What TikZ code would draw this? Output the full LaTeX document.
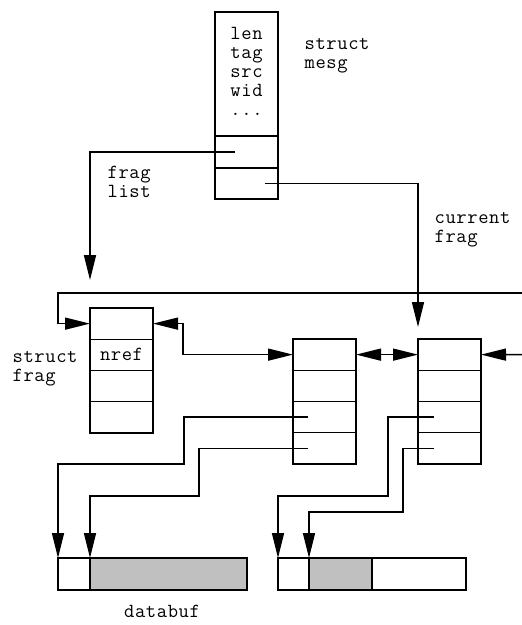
\documentclass[tikz,border=0pt]{standalone}
\usepackage{fontspec}
\setmonofont[LetterSpace=3]{Latin Modern Mono}
\usetikzlibrary{arrows.meta}
\definecolor{bufgray}{RGB}{192,192,192}
\begin{document}
\begin{tikzpicture}[x=1pt,y=-1pt, line width=1.35pt,
  cell/.style={draw, minimum width=63pt, minimum height=31.25pt, inner sep=0pt, outer sep=0pt, anchor=north west},
  buf/.style={draw, minimum height=32pt, inner sep=0pt, outer sep=0pt, anchor=north west},
  txt/.style={font=\ttfamily\fontsize{20}{19}\selectfont, inner sep=0pt},
  lbl/.style={txt, align=left, anchor=west},
  ptr/.style={-{Triangle[length=25pt,width=12pt]}},
  dptr/.style={{Triangle[length=25pt,width=12pt]}-{Triangle[length=25pt,width=12pt]}},
]
\fill[white] (0,0) rectangle (522,625);
\useasboundingbox (0,0) rectangle (522,625);

% struct mesg
\node[cell, minimum height=124pt] (m0) at (215,12) {};
\node[cell, minimum height=32pt] (m1) at (215,136) {};
\node[cell, minimum height=31pt] (m2) at (215,168) {};
\node[txt, align=center] (mtext) at (246.5,71) {len\\tag\\src\\wid\\...};
\node[lbl] (lmesg) at (304,56) {struct\\mesg};

% struct frag boxes
\node[cell] (f1r1) at (90,308) {};
\node[cell, txt, draw, inner sep=0pt] (f1r2) at (90,339.25) {nref};
\node[cell] (f1r3) at (90,370.5) {};
\node[cell] (f1r4) at (90,401.75) {};
\node[lbl] (lfrag) at (12,369) {struct\\frag};

\node[cell] (f2r1) at (293,339) {};
\node[cell] (f2r2) at (293,370.25) {};
\node[cell] (f2r3) at (293,401.5) {};
\node[cell] (f2r4) at (293,432.75) {};

\node[cell] (f3r1) at (418,339) {};
\node[cell] (f3r2) at (418,370.25) {};
\node[cell] (f3r3) at (418,401.5) {};
\node[cell] (f3r4) at (418,432.75) {};

% data buffers
\node[buf, minimum width=32pt] (db1a) at (58,558) {};
\node[buf, minimum width=157pt, fill=bufgray] (db1b) at (90,558) {};
\node[buf, minimum width=31pt] (db2a) at (278,558) {};
\node[buf, minimum width=63pt, fill=bufgray] (db2b) at (309,558) {};
\node[buf, minimum width=94pt] (db2c) at (372,558) {};
\node[txt] (ldb) at (162,611) {databuf};

% labels
\node[lbl] (lfl) at (107,182) {frag\\list};
\node[lbl] (lcf) at (434,230) {current\\frag};

% coordinates
\coordinate (fls) at (235,152);
\coordinate (flt) at (90,280);
\coordinate (cfs) at (265,183.5);
\coordinate (ringR) at (522,293);
\coordinate (rightR) at (522,354.6);

% connectors
\draw[ptr] (fls) -| (flt);
\draw[ptr] (cfs) -| ([yshift=12pt]f3r1.north west);
\draw[ptr] (ringR) -- (58,293) |- (f1r1.west);
\draw[dptr] (f1r1.east) -- ++(30,0) |- (f2r1.west);
\draw[dptr] (f2r1.east) -- (f3r1.west);
\draw[ptr] (rightR) -- (f3r1.east);

\draw[ptr] ([xshift=15pt]f2r3.west) -| (184,464) -| (db1a.north west);
\draw[ptr] ([xshift=15pt]f2r4.west) -| (199,496) -| (db1b.north west);
\draw[ptr] ([xshift=16pt]f3r3.west) -| (388,496) -| (db2a.north west);
\draw[ptr] ([xshift=16pt]f3r4.west) -| (403,512) -| (db2b.north west);
\end{tikzpicture}
\end{document}
